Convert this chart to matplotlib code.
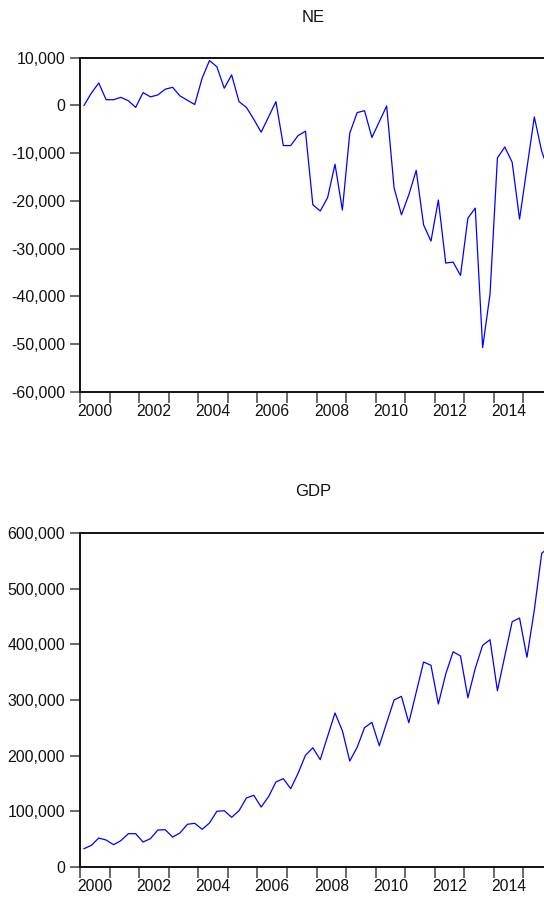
import matplotlib
matplotlib.use("Agg")
import matplotlib.pyplot as plt
import numpy as np
from matplotlib.ticker import FixedLocator, FuncFormatter

plt.rcParams["font.family"] = ["Liberation Sans", "DejaVu Sans"]
plt.rcParams["axes.unicode_minus"] = False

# quarterly series, 2000Q1 onwards
ne = [0, 2600, 4700, 1200, 1200, 1700, 1000, -400,
      2700, 1800, 2200, 3400, 3800, 2000, 1100, 200,
      5700, 9400, 8100, 3600, 6400, 800, -400, -2900,
      -5600, -2400, 800, -8400, -8400, -6300, -5400, -20800,
      -22100, -19300, -12300, -21900, -5800, -1500, -1100, -6700,
      -3400, -100, -17200, -22900, -18700, -13600, -25000, -28400,
      -19800, -33000, -32800, -35600, -23600, -21500, -50700, -39500,
      -11000, -8700, -11900, -23800, -13100, -2400, -9600, -14000]

gdp = [32400, 38500, 51600, 48000, 39600, 46800, 59400, 59400,
       44400, 50400, 66000, 66600, 53400, 60600, 76300, 78100,
       67300, 78600, 99700, 100800, 88900, 100800, 123600, 128500,
       107400, 126000, 152400, 158400, 140400, 168100, 200500, 214000,
       192600, 234600, 276600, 244700, 190200, 214800, 250200, 259800,
       217700, 259100, 300000, 306600, 259100, 313800, 368400, 362400,
       292800, 346800, 386900, 379200, 304100, 357000, 398400, 408500,
       316700, 379200, 440900, 447500, 376800, 461900, 564000, 575000]

years = np.arange(2000, 2017)
label_years = np.arange(2000, 2016, 2)
t = 2000 + (np.arange(len(ne)) + 0.5) / 4

W, H = 544, 899
fig = plt.figure(figsize=(W / 100, H / 100), dpi=100)

ax_w = (80.3 + 29.53 * 16 - 80.3) / W


def style(ax, title, title_y, ylim, yticks):
    ax.set_xlim(2000, 2016)
    ax.set_ylim(*ylim)
    ax.set_yticks(yticks)
    ax.yaxis.set_major_formatter(FuncFormatter(lambda v, p: f"{v:,.0f}"))
    ax.xaxis.set_major_locator(FixedLocator(years))
    ax.xaxis.set_minor_locator(FixedLocator(label_years + 0.5))
    ax.xaxis.set_major_formatter(FuncFormatter(lambda v, p: ""))
    ax.xaxis.set_minor_formatter(FuncFormatter(lambda v, p: f"{int(v)}"))
    ax.tick_params(axis="x", which="major", direction="out", length=8,
                   width=1.2, color="#505050")
    ax.tick_params(axis="x", which="minor", length=0, pad=8.5,
                   labelsize=11.3, labelcolor="#111111")
    ax.tick_params(axis="y", direction="out", length=7.5, width=1.2,
                   color="#505050", pad=3.5, labelsize=11.5,
                   labelcolor="#111111")
    for s in ("left", "bottom", "top"):
        ax.spines[s].set_linewidth(1.4)
        ax.spines[s].set_color("#111111")
    ax.spines["right"].set_visible(False)
    fig.text(313 / W, 1 - title_y / H, title, ha="center", va="center",
             fontsize=12, color="#111111")


ax1 = fig.add_axes([80.3 / W, 1 - 392 / H, ax_w, (392 - 57.7) / H])
ax1.plot(t, ne, color="#0000FF", lw=0.9)
style(ax1, "NE", 17, (-60000, 10000), np.arange(-60000, 10001, 10000))

ax2 = fig.add_axes([80.3 / W, 1 - 866.7 / H, ax_w, (866.7 - 533.3) / H])
ax2.plot(t, gdp, color="#0000FF", lw=0.9)
style(ax2, "GDP", 492, (0, 600000), np.arange(0, 600001, 100000))

fig.savefig("out.png", dpi=100)
